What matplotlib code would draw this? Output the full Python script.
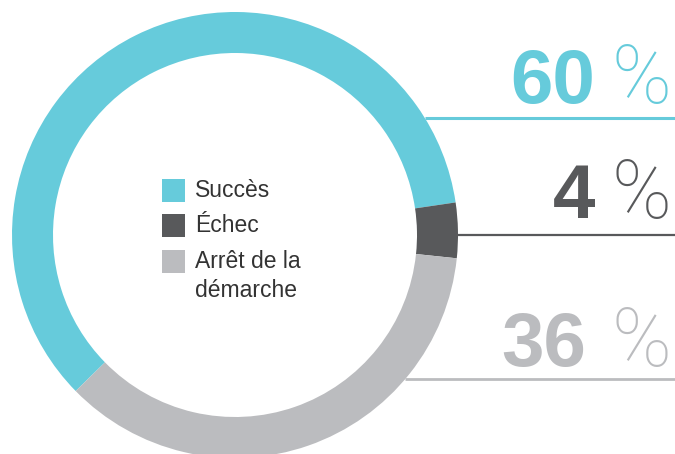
import numpy as np
import matplotlib
matplotlib.use("Agg")
import matplotlib.pyplot as plt
from matplotlib.patches import Rectangle

# share of outcomes
labels = ["Succès", "Échec", "Arrêt de la\ndémarche"]
shares = [60, 4, 36]
colors = ["#66cbdb", "#58595b", "#bbbcbf"]

W, H = 675, 454
cx, cy, R = 235, H - 235, 223
ring = 41

fig = plt.figure(figsize=(W / 100, H / 100), dpi=100)
ax = fig.add_axes([0, 0, 1, 1])
ax.set_xlim(0, W)
ax.set_ylim(0, H)
ax.set_aspect("equal")
ax.axis("off")

ax.pie(shares, colors=colors, radius=R, center=(cx, cy), startangle=224.4,
       counterclock=False, wedgeprops=dict(width=ring, linewidth=0))
ax.set_xlim(0, W)
ax.set_ylim(0, H)

# big figures on the right, each with a rule running out of the ring
rule_y = [H - 118, H - 235, H - 379]
base_y = [H - 103, H - 218, H - 366]
num_right = [595, 595, 586]
rule_w = [2.2, 1.6, 2.0]
for val, col, ry, by, nx, lw in zip(shares, colors, rule_y, base_y, num_right, rule_w):
    x0 = cx + np.sqrt(max(R ** 2 - (ry - cy) ** 2, 0))
    ax.plot([x0, W], [ry, ry], color=col, lw=lw, solid_capstyle="butt")
    ax.text(nx, by, str(val), ha="right", va="baseline", color=col,
            fontsize=55, fontweight="bold", family="Liberation Sans")
    ax.text(671, by, "%", ha="right", va="baseline", color=col,
            fontsize=58, fontweight="light", family="Roboto")

# legend in the middle of the ring
sq = 23
top = [H - 179, H - 214, H - 250]
for lab, col, t in zip(labels, colors, top):
    ax.add_patch(Rectangle((162, t - sq), sq, sq, color=col, lw=0))
    for i, line in enumerate(lab.split("\n")):
        ax.text(195, t - 18 - 29 * i, line, ha="left", va="baseline",
                color="#333333", fontsize=16.5, family="Liberation Sans")

fig.savefig("out.png", dpi=100)
